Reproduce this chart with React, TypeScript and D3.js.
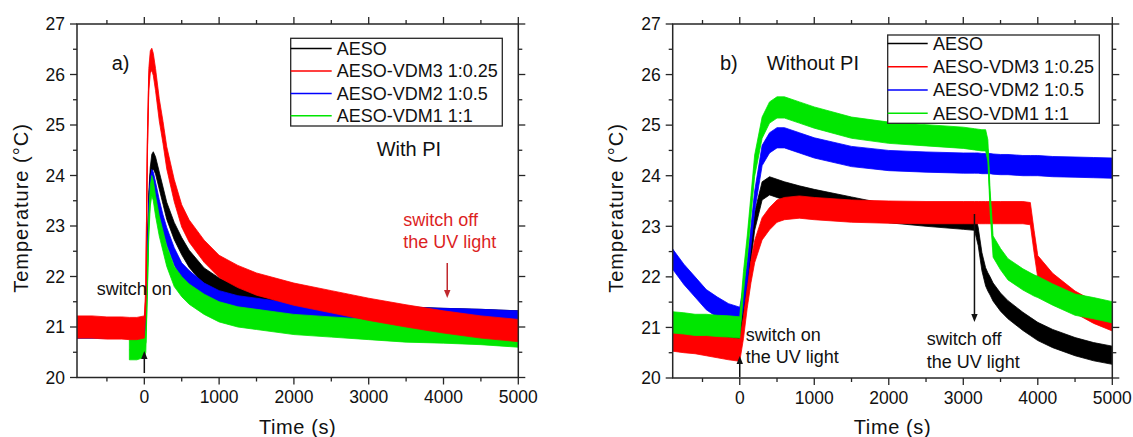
import React from "react";
import * as d3 from "d3";

const FONT = "'Liberation Sans', Arial, Helvetica, sans-serif";

// ---- shared labels / ticks ----
const seriesNames = ["AESO", "AESO-VDM3 1:0.25", "AESO-VDM2 1:0.5", "AESO-VDM1 1:1"];
const seriesColors = ["#000000", "#ff0000", "#0000ff", "#00e600"];
const xMajorTicks = [0, 1000, 2000, 3000, 4000, 5000];
const xMinorTicks = [-500, 500, 1500, 2500, 3500, 4500];
const yMajorTicks = [20, 21, 22, 23, 24, 25, 26, 27];
const yMinorTicks = [20.5, 21.5, 22.5, 23.5, 24.5, 25.5, 26.5];
const xDomain = [-900, 5000];
const yDomain = [20, 27];

// ---- panel a) With PI ----
const leftTime = [-900, -700, -500, -300, -200, -100, 0, 20, 40, 60, 80, 100, 120, 150, 200, 250, 300, 400, 500, 600, 800, 1000, 1250, 1500, 2000, 2500, 3000, 3500, 4000, 4500, 5000];
const leftAESO = [20.95, 20.95, 20.95, 20.95, 20.95, 20.95, 21.0, 21.2, 22.4, 23.5, 24.0, 24.25, 24.3, 24.2, 23.9, 23.6, 23.3, 22.9, 22.6, 22.35, 22.0, 21.8, 21.65, 21.55, 21.4, 21.32, 21.27, 21.23, 21.2, 21.18, 21.15];
const leftVDM3 = [21.0, 21.0, 20.98, 20.98, 20.97, 20.97, 21.0, 21.6, 24.5, 25.9, 26.25, 26.3, 26.2, 25.9, 25.3, 24.85, 24.35, 23.7, 23.2, 22.9, 22.5, 22.2, 22.0, 21.85, 21.65, 21.5, 21.35, 21.22, 21.1, 21.0, 20.93];
const leftVDM2 = [20.95, 20.95, 20.95, 20.95, 20.95, 20.95, 21.0, 21.2, 22.2, 23.3, 23.8, 23.95, 23.9, 23.7, 23.35, 23.05, 22.8, 22.4, 22.1, 21.95, 21.7, 21.55, 21.45, 21.4, 21.3, 21.27, 21.25, 21.22, 21.2, 21.18, 21.15];
const leftVDM1 = [null, null, null, null, 20.55, 20.55, 20.6, 20.7, 21.8, 23.0, 23.6, 23.8, 23.7, 23.4, 23.0, 22.7, 22.4, 22.0, 21.8, 21.65, 21.45, 21.3, 21.2, 21.15, 21.05, 21.0, 20.95, 20.9, 20.88, 20.85, 20.8];
const leftNoise = [0.17, 0.22, 0.17, 0.2];

// ---- panel b) Without PI ----
const rightTime = [-900, -750, -600, -450, -300, -150, 0, 50, 100, 150, 200, 300, 400, 500, 600, 800, 1000, 1500, 2000, 2500, 3000, 3150, 3200, 3250, 3300, 3330, 3360, 3400, 3500, 3600, 3800, 3900, 3950, 4000, 4200, 4500, 4750, 5000];
const rightAESO = [20.95, 20.95, 20.95, 20.95, 20.95, 20.95, 20.95, 21.3, 21.9, 22.5, 23.1, 23.7, 23.8, 23.75, 23.7, 23.62, 23.55, 23.4, 23.25, 23.18, 23.12, 23.1, 22.8, 22.3, 22.0, 21.9, 21.82, 21.7, 21.5, 21.35, 21.12, 21.02, 20.97, 20.92, 20.78, 20.62, 20.52, 20.45];
const rightVDM3 = [20.75, 20.72, 20.7, 20.66, 20.62, 20.58, 20.55, 21.0, 21.6, 22.1, 22.5, 22.95, 23.15, 23.3, 23.35, 23.38, 23.35, 23.3, 23.28, 23.27, 23.27, 23.27, 23.27, 23.27, 23.27, 23.27, 23.27, 23.27, 23.27, 23.27, 23.27, 23.25, 22.7, 22.2, 21.85, 21.5, 21.3, 21.15];
const rightVDM2 = [22.35, 22.05, 21.8, 21.55, 21.4, 21.27, 21.2, 21.6, 22.1, 22.8, 23.5, 24.4, 24.65, 24.75, 24.75, 24.65, 24.55, 24.38, 24.3, 24.27, 24.25, 24.25, 24.25, 24.24, 24.24, 24.24, 24.24, 24.23, 24.22, 24.22, 24.2, 24.2, 24.2, 24.2, 24.18, 24.17, 24.16, 24.15];
const rightVDM1 = [21.1, 21.08, 21.05, 21.05, 21.03, 21.02, 21.0, 21.9, 22.6, 23.4, 24.2, 24.95, 25.25, 25.35, 25.35, 25.25, 25.15, 24.95, 24.85, 24.8, 24.75, 24.72, 24.71, 24.7, 24.7, 24.5, 23.5, 22.6, 22.35, 22.15, 21.95, 21.87, 21.83, 21.8, 21.65, 21.45, 21.38, 21.3];
const rightNoise = [0.18, 0.22, 0.2, 0.21];

type Box = { x0: number; x1: number; top: number; bottom: number };
type LegendBox = { x: number; y: number; w: number; h: number; row0: number; gap: number; line: number; textX: number };

function Arrow({ x, from, to, color }: { x: number; from: number; to: number; color: string }) {
  const dir = to > from ? 1 : -1;
  const head = 8;
  return (
    <g>
      <line x1={x} y1={from} x2={x} y2={to - dir * head} stroke={color} strokeWidth={1.5} />
      <polygon points={`${x - 3.2},${to - dir * head} ${x + 3.2},${to - dir * head} ${x},${to}`} fill={color} />
    </g>
  );
}

function Panel({ id, box, time, series, noise, order, legend, annot }: {
  id: string; box: Box; time: number[]; series: (number | null)[][]; noise: number[]; order: number[]; legend: LegendBox;
  annot: (x: d3.ScaleLinear<number, number>, y: d3.ScaleLinear<number, number>) => React.ReactNode;
}) {
  const x = d3.scaleLinear().domain(xDomain).range([box.x0, box.x1]);
  const y = d3.scaleLinear().domain(yDomain).range([box.bottom, box.top]);
  const axisColor = "#262626";
  return (
    <g>
      <defs>
        <clipPath id={`clip-${id}`}>
          <rect x={box.x0} y={box.top} width={box.x1 - box.x0} height={box.bottom - box.top} />
        </clipPath>
      </defs>
      <g clipPath={`url(#clip-${id})`}>
        {order.map((si) => {
          const vals = series[si];
          const s = noise[si];
          const area = d3.area<number>()
            .defined((_, i) => vals[i] != null)
            .x((_, i) => x(time[i]))
            .y0((_, i) => y((vals[i] as number) - s))
            .y1((_, i) => y((vals[i] as number) + s));
          const line = d3.line<number>()
            .defined((_, i) => vals[i] != null)
            .x((_, i) => x(time[i]))
            .y((_, i) => y(vals[i] as number));
          return (
            <g key={si}>
              <path d={area(time) || ""} fill={seriesColors[si]} stroke={seriesColors[si]} strokeWidth={0.8} />
              <path d={line(time) || ""} fill="none" stroke={seriesColors[si]} strokeWidth={1.2} />
            </g>
          );
        })}
      </g>
      <rect x={box.x0} y={box.top} width={box.x1 - box.x0} height={box.bottom - box.top} fill="none" stroke={axisColor} strokeWidth={1.5} />
      {xMajorTicks.map((t) => (
        <g key={`xm${t}`}>
          <line x1={x(t)} x2={x(t)} y1={box.bottom} y2={box.bottom + 7} stroke={axisColor} strokeWidth={1.3} />
          <line x1={x(t)} x2={x(t)} y1={box.top} y2={box.top - 7} stroke={axisColor} strokeWidth={1.3} />
          <text x={x(t)} y={box.bottom + 25.5} textAnchor="middle" fontSize={17.5} fontFamily={FONT} fill="#111">{t}</text>
        </g>
      ))}
      {xMinorTicks.map((t) => (
        <g key={`xn${t}`}>
          <line x1={x(t)} x2={x(t)} y1={box.bottom} y2={box.bottom + 4} stroke={axisColor} strokeWidth={1.3} />
          <line x1={x(t)} x2={x(t)} y1={box.top} y2={box.top - 4} stroke={axisColor} strokeWidth={1.3} />
        </g>
      ))}
      {yMajorTicks.map((v) => (
        <g key={`ym${v}`}>
          <line x1={box.x0} x2={box.x0 - 7} y1={y(v)} y2={y(v)} stroke={axisColor} strokeWidth={1.3} />
          <line x1={box.x1} x2={box.x1 + 7} y1={y(v)} y2={y(v)} stroke={axisColor} strokeWidth={1.3} />
          <text x={box.x0 - 12} y={y(v)} dy="0.36em" textAnchor="end" fontSize={17.5} fontFamily={FONT} fill="#111">{v}</text>
        </g>
      ))}
      {yMinorTicks.map((v) => (
        <g key={`yn${v}`}>
          <line x1={box.x0} x2={box.x0 - 4} y1={y(v)} y2={y(v)} stroke={axisColor} strokeWidth={1.3} />
          <line x1={box.x1} x2={box.x1 + 4} y1={y(v)} y2={y(v)} stroke={axisColor} strokeWidth={1.3} />
        </g>
      ))}
      <text x={(box.x0 + box.x1) / 2} y={434} textAnchor="middle" fontSize={20} fontFamily={FONT} letterSpacing={0.6} fill="#111">Time (s)</text>
      <text transform={`translate(${box.x0 - 49.5},208) rotate(-90)`} textAnchor="middle" fontSize={20} fontFamily={FONT} letterSpacing={1} fill="#111">Temperature (°C)</text>
      <rect x={legend.x} y={legend.y} width={legend.w} height={legend.h} fill="#fff" stroke={axisColor} strokeWidth={1.3} />
      {seriesNames.map((name, i) => {
        const ry = legend.row0 + i * legend.gap;
        return (
          <g key={name}>
            <line x1={legend.x} x2={legend.x + legend.line} y1={ry} y2={ry} stroke={seriesColors[i]} strokeWidth={1.5} />
            <text x={legend.textX} y={ry} dy="0.36em" fontSize={18} fontFamily={FONT} fill="#111">{name}</text>
          </g>
        );
      })}
      {annot(x, y)}
    </g>
  );
}

export default function App() {
  const leftBox: Box = { x0: 77, x1: 518.3, top: 24, bottom: 377.5 };
  const rightBox: Box = { x0: 672.7, x1: 1112.3, top: 24, bottom: 378 };
  const leftLegend: LegendBox = { x: 290.7, y: 38.3, w: 211.6, h: 87.7, row0: 48.6, gap: 22.4, line: 41, textX: 336.7 };
  const rightLegend: LegendBox = { x: 887.7, y: 35, w: 211.6, h: 88.3, row0: 43.6, gap: 23.2, line: 40, textX: 933 };
  const red = "#dc1f1f";
  return (
    <svg width={1133} height={437} style={{ position: "absolute", left: 0, top: 0, background: "#fff" }}>
      <rect width={1133} height={437} fill="#fff" />
      <Panel
        id="a"
        box={leftBox}
        time={leftTime}
        series={[leftAESO, leftVDM3, leftVDM2, leftVDM1]}
        noise={leftNoise}
        order={[0, 2, 3, 1]}
        legend={leftLegend}
        annot={(x) => (
          <g fontFamily={FONT}>
            <text x={111.7} y={70} fontSize={20} fill="#111">a)</text>
            <text x={376.7} y={156} fontSize={20} fill="#111">With PI</text>
            <text x={96.7} y={295} fontSize={18} fill="#111">switch on</text>
            <Arrow x={x(0)} from={373} to={351} color="#111" />
            <text x={403.3} y={226} fontSize={18} fill={red}>switch off</text>
            <text x={403.3} y={248.3} fontSize={18} fill={red}>the UV light</text>
            <Arrow x={x(4050)} from={263} to={298} color="#c0282d" />
          </g>
        )}
      />
      <Panel
        id="b"
        box={rightBox}
        time={rightTime}
        series={[rightAESO, rightVDM3, rightVDM2, rightVDM1]}
        noise={rightNoise}
        order={[0, 1, 2, 3]}
        legend={rightLegend}
        annot={(x) => (
          <g fontFamily={FONT}>
            <text x={720} y={70} fontSize={20} fill="#111">b)</text>
            <text x={766.7} y={70} fontSize={20} fill="#111">Without PI</text>
            <text x={745.7} y={340.7} fontSize={18} fill="#111">switch on</text>
            <text x={745.7} y={362.7} fontSize={18} fill="#111">the UV light</text>
            <Arrow x={x(0)} from={377} to={356} color="#111" />
            <text x={926.7} y={345} fontSize={18} fill="#111">switch off</text>
            <text x={926.7} y={367.7} fontSize={18} fill="#111">the UV light</text>
            <Arrow x={x(3150)} from={214} to={322} color="#111" />
          </g>
        )}
      />
    </svg>
  );
}
